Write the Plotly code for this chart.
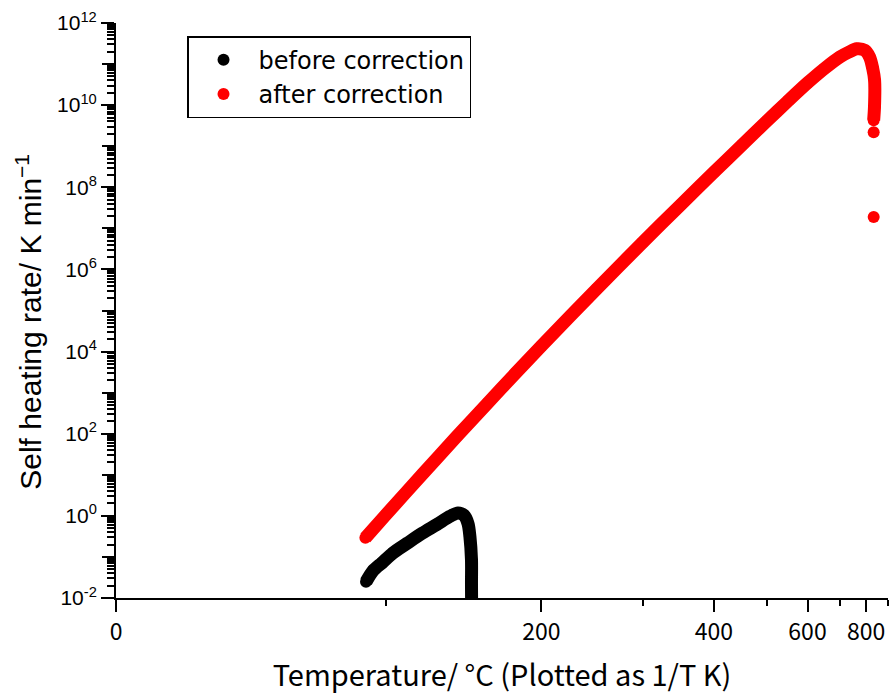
import plotly.graph_objects as go

KELVIN = 273.15

# Uncorrected self-heating rate (°C, K/min)
before_temp_c = [90.3, 93.7, 98.2, 103.8, 111.2, 119.4, 128.0, 135.7, 140.6,
                 144.4, 147.0, 148.2, 149.2, 149.2, 149.3]
before_rate = [0.0248, 0.0460, 0.0720, 0.126, 0.215, 0.376, 0.622, 0.973, 1.18,
               1.03, 0.640, 0.309, 0.0853, 0.0210, 0.005]

# Corrected self-heating rate (°C, K/min)
after_temp_c = [90.0, 100.0, 120.0, 140.0, 160.0, 180.0, 200.0, 250.0, 300.0,
                350.0, 400.0, 450.0, 500.0, 550.0, 600.0, 650.0, 700.0, 731.0,
                762.0, 794.0, 815.0, 828.0, 836.5, 836.0, 832.4, 832.4, 832.4]
after_rate = [0.292, 1.05, 10.8, 86.9, 558.0, 3.00e3, 1.36e4, 3.40e5, 4.55e6,
              3.86e7, 2.33e8, 1.08e9, 4.08e9, 1.29e10, 3.47e10, 7.82e10, 1.49e11,
              1.94e11, 2.36e11, 2.17e11, 1.47e11, 7.91e10, 4.04e10, 8.91e9,
              4.30e9, 2.19e9, 1.88e7]
# the final two readings stand apart from the continuous run
after_band_count = len(after_temp_c) - 2

x_major_c = [0, 200, 400, 600, 800]
x_minor_c = [100, 300, 500, 700, 900]
x_limits_c = [0, 900]
y_labelled_decades = list(range(-2, 13, 2))
y_plain_decades = list(range(-1, 12, 2))
y_range = [-2, 12]


def inv_t(temps_c):
    """Temperature in °C -> -1000/T(K), so the axis runs in reciprocal temperature."""
    return [-1000.0 / (t + KELVIN) for t in temps_c]


MARK = 12
BAND = 13
NARROW = "Liberation Sans Narrow, Noto Sans CJK JP, sans-serif"
ARIAL = "Liberation Sans, Arial, sans-serif"

fig = go.Figure()

# data points
fig.add_trace(go.Scatter(
    x=inv_t(before_temp_c), y=before_rate, mode="markers",
    marker=dict(color="black", size=MARK), name="before correction"))
fig.add_trace(go.Scatter(
    x=inv_t(after_temp_c), y=after_rate, mode="markers",
    marker=dict(color="#ff0000", size=MARK), name="after correction"))

# continuous bands joining the dense readings
fig.add_trace(go.Scatter(
    x=inv_t(before_temp_c), y=before_rate, mode="lines", yaxis="y2",
    line=dict(color="black", width=BAND, shape="spline", smoothing=0.8),
    showlegend=False, hoverinfo="skip"))
fig.add_trace(go.Scatter(
    x=inv_t(after_temp_c[:after_band_count]), y=after_rate[:after_band_count],
    mode="lines", yaxis="y2",
    line=dict(color="#ff0000", width=BAND, shape="spline", smoothing=0.8),
    showlegend=False, hoverinfo="skip"))

y_minor = [m * 10.0 ** d for d in range(y_range[0], y_range[1]) for m in range(2, 10)]

fig.update_layout(
    width=891, height=695,
    margin=dict(l=116, r=3, t=23, b=97),
    paper_bgcolor="white", plot_bgcolor="white",
    font=dict(family=ARIAL, color="black"),
    legend=dict(
        x=0.092, y=0.977, xanchor="left", yanchor="top",
        bgcolor="white", bordercolor="black", borderwidth=1.5,
        font=dict(family="DejaVu Sans, Noto Sans CJK JP", size=24, color="black"),
        itemwidth=60, tracegroupgap=0,
    ),
    xaxis=dict(
        range=inv_t(x_limits_c),
        tickmode="array", tickvals=inv_t(x_major_c),
        ticktext=[str(t) for t in x_major_c],
        ticks="outside", ticklen=12, tickwidth=2, tickcolor="black",
        minor=dict(tickmode="array", tickvals=inv_t(x_minor_c),
                   ticks="outside", ticklen=6, tickwidth=2, tickcolor="black"),
        showline=True, linecolor="black", linewidth=2,
        showgrid=False, zeroline=False,
        tickfont=dict(family=NARROW, size=23),
        title=dict(text="Temperature/ °C (Plotted as 1/T K)",
                   font=dict(family=NARROW, size=29), standoff=20),
    ),
    yaxis=dict(
        type="log", range=y_range,
        tickmode="array", tickvals=[10.0 ** d for d in y_labelled_decades],
        ticktext=[f"10<sup>{d}</sup>" for d in y_labelled_decades],
        ticks="outside", ticklen=13, tickwidth=2, tickcolor="black",
        minor=dict(tickmode="array", tickvals=y_minor,
                   ticks="outside", ticklen=7, tickwidth=1.5, tickcolor="black"),
        showline=True, linecolor="black", linewidth=2,
        showgrid=False, zeroline=False,
        tickfont=dict(family=ARIAL, size=21),
    ),
    # unlabelled decade ticks sharing the same log scale
    yaxis2=dict(
        type="log", range=y_range, overlaying="y", anchor="x", side="left",
        tickmode="array", tickvals=[10.0 ** d for d in y_plain_decades],
        showticklabels=False,
        ticks="outside", ticklen=13, tickwidth=2, tickcolor="black",
        showline=False, showgrid=False, zeroline=False,
    ),
    annotations=[dict(
        text="Self heating rate/ K min<sup>−1</sup>", textangle=-90,
        xref="paper", yref="paper", x=-0.113, y=0.48,
        xanchor="center", yanchor="middle", showarrow=False,
        font=dict(family=ARIAL, size=30, color="black"),
    )],
)

fig.write_html("out.html")
